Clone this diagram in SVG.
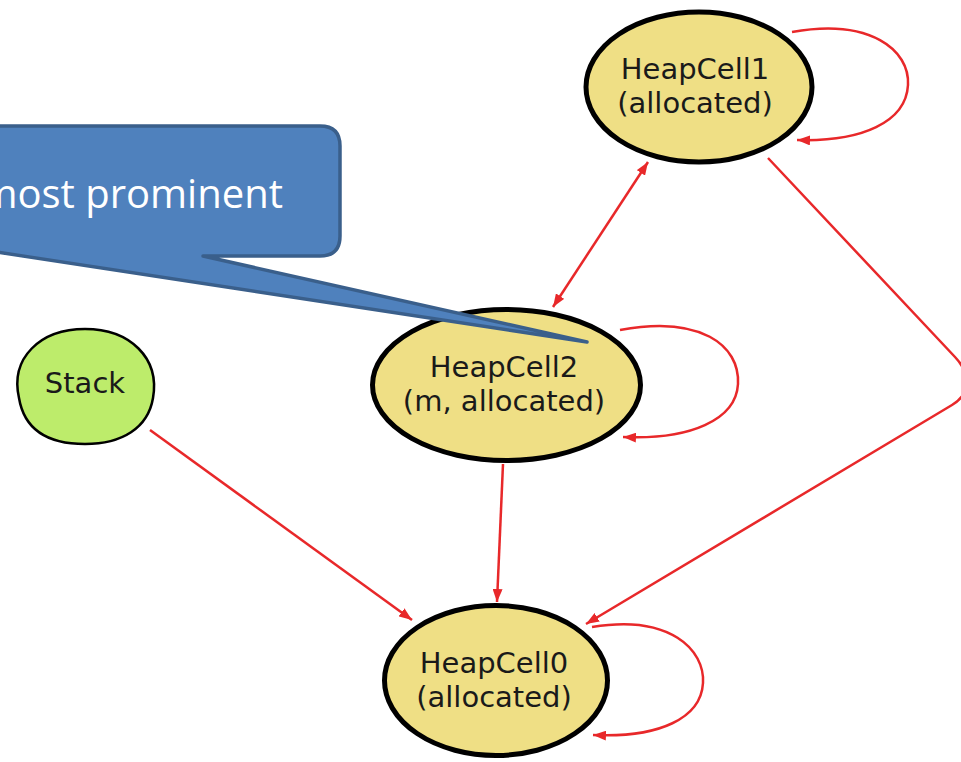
<svg xmlns="http://www.w3.org/2000/svg" width="961" height="762" viewBox="0 0 961 762">
  <style>
    .edge { fill: none; stroke: #e8282a; stroke-width: 2.5; }
    .heap { fill: #efdf85; stroke: #000; stroke-width: 5; }
    .stack { fill: #bdec6b; stroke: #000; stroke-width: 2.5; }
    .lbl { font-family: "DejaVu Sans", Verdana, sans-serif; font-size: 29px; fill: #1a1a1a; text-anchor: middle; }
    .callout { fill: #4f81bd; stroke: #3a5f8b; stroke-width: 3.5; stroke-linejoin: round; }
    .ctext { font-family: "Open Sans", "Noto Sans", sans-serif; font-size: 40px; fill: #ffffff; text-anchor: end; }
  </style>
  <defs>
    <marker id="arr" markerUnits="userSpaceOnUse" markerWidth="14" markerHeight="10" refX="13" refY="5" orient="auto-start-reverse">
      <path d="M0,0 L13,5 L0,10 z" fill="#e8282a"/>
    </marker>
  </defs>
  <rect width="961" height="762" fill="#ffffff"/>

  <g id="connectors">
    <path class="edge" d="M792,32 C870,18 910,50 908,85 C906,122 862,142 797,140" marker-end="url(#arr)"/>
    <path class="edge" d="M553,307 L648,162" marker-start="url(#arr)" marker-end="url(#arr)"/>
    <path class="edge" d="M768,158 L955,357 C970,373 972,393 952,405 L586,624" marker-end="url(#arr)"/>
    <path class="edge" d="M620,330 C700,315 740,345 738,384 C736,420 690,440 623,437" marker-end="url(#arr)"/>
    <path class="edge" d="M503,464 L497,602" marker-end="url(#arr)"/>
    <path class="edge" d="M150,430 L412,620" marker-end="url(#arr)"/>
    <path class="edge" d="M592,627 C670,614 705,650 703,683 C701,718 660,738 593,735" marker-end="url(#arr)"/>
  </g>

  <g id="HeapCell1">
    <ellipse class="heap" cx="699" cy="87" rx="113" ry="75"/>
    <text class="lbl" x="695" y="79">HeapCell1</text>
    <text class="lbl" x="695" y="113">(allocated)</text>
  </g>

  <g id="HeapCell2">
    <ellipse class="heap" cx="506.5" cy="385" rx="134" ry="75.5"/>
    <text class="lbl" x="504" y="377">HeapCell2</text>
    <text class="lbl" x="504" y="411">(m, allocated)</text>
  </g>

  <g id="Stack">
    <path class="stack" d="M19,398 C10,358 40,329 85,329 C130,329 160,358 153,398 C148,428 122,444 85,444 C46,444 24,428 19,398 Z"/>
    <text class="lbl" x="85" y="393">Stack</text>
  </g>

  <g id="HeapCell0">
    <ellipse class="heap" cx="496" cy="680.5" rx="111.5" ry="75"/>
    <text class="lbl" x="494" y="673">HeapCell0</text>
    <text class="lbl" x="494" y="707">(allocated)</text>
  </g>

  <g id="callout">
    <path class="callout" d="M-30,126 L320,126 Q340,126 340,146 L340,236 Q340,256 320,256 L203,256 L587,342 L-30,248 Z"/>
    <text class="ctext" x="283" y="208">most prominent</text>
  </g>
</svg>
